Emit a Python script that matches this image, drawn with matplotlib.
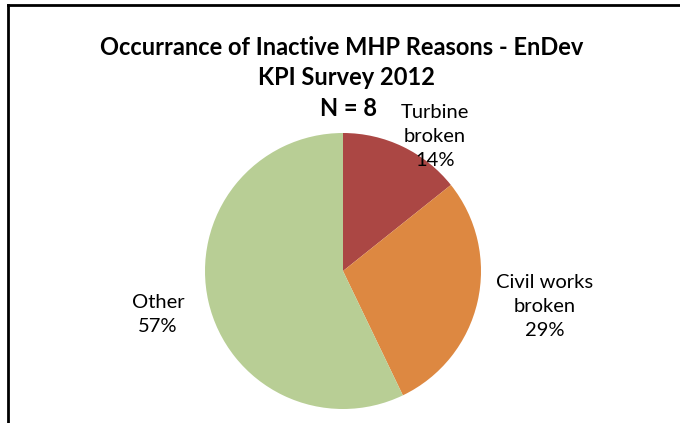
import matplotlib
matplotlib.use("Agg")
import matplotlib.pyplot as plt
from matplotlib.lines import Line2D

categories = ["Turbine\nbroken", "Civil works\nbroken", "Other"]
counts = [1, 2, 4]
colors = ["#AB4744", "#DD8841", "#B8CE95"]
title_lines = ["Occurrance of Inactive MHP Reasons - EnDev", "KPI Survey 2012", "N = 8"]

W, H = 680, 423
fig = plt.figure(figsize=(W / 100, H / 100), dpi=100)
ax = fig.add_axes([0, 0, 1, 1])

plt.rcParams["font.family"] = ["Lato", "DejaVu Sans"]

wedges, _ = ax.pie(counts, colors=colors, startangle=90, counterclock=False,
                   center=(343, H - 271), radius=138, frame=True)
ax.set_xlim(0, W)
ax.set_ylim(0, H)
ax.set_aspect("equal")
ax.axis("off")

total = sum(counts)
pcts = [f"{round(c / total * 100)}%" for c in counts]
label_pos = [(435, H - 136), (545, H - 307), (158, H - 315)]
for cat, p, (x, y) in zip(categories, pcts, label_pos):
    ax.text(x, y, f"{cat}\n{p}", ha="center", va="center", fontsize=14.5,
            family=["Lato", "DejaVu Sans"], linespacing=1.5, color="#000000")

title_pos = [(342, H - 47), (347, H - 77), (348, H - 108)]
for t, (x, y) in zip(title_lines, title_pos):
    ax.text(x, y, t, ha="center", va="center", fontsize=17, fontweight="bold",
            family=["Lato", "DejaVu Sans"])

fig.add_artist(Line2D([8 / W, 8 / W], [0, 1 - 5 / H], transform=fig.transFigure, color="black", lw=2))
fig.add_artist(Line2D([8 / W, 1], [1 - 5 / H, 1 - 5 / H], transform=fig.transFigure, color="black", lw=2))

fig.savefig("out.png", dpi=100, facecolor="white")
